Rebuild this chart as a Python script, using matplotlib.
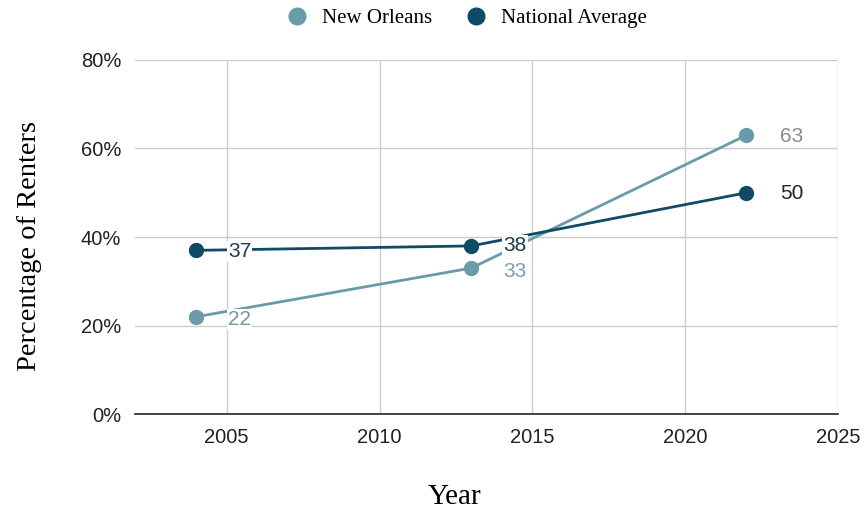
import matplotlib.pyplot as plt
from matplotlib.ticker import FuncFormatter

years = [2004, 2013, 2022]
new_orleans = [22, 33, 63]
national = [37, 38, 50]
series_names = ['New Orleans', 'National Average']

noColor = '#6a9bab'
natColor = '#0f4a66'

fig = plt.figure(figsize=(8.65, 5.12), dpi=100)
ax = fig.add_axes([0.156, 0.191, 0.813, 0.692])

ax.plot(years, new_orleans, color=noColor, lw=2, marker='o', ms=10, label=series_names[0], zorder=3)
ax.plot(years, national, color=natColor, lw=2, marker='o', ms=10, label=series_names[1], zorder=3)

noLabelColors = ['#6f98aa', '#7b9fb0', '#8a8a8a']
natLabelColors = ['#1e3a4a', '#1e3a4a', '#222222']
noOffsets = [(32, -3), (32, -3), (34, -1)]
natOffsets = [(32, -1), (32, 0), (34, -1)]
for x, y, c, off in zip(years, new_orleans, noLabelColors, noOffsets):
    ax.annotate(str(y), (x, y), textcoords='offset pixels', xytext=off, ha='left', va='center',
                fontsize=15, color=c, family='Liberation Sans', zorder=4,
                bbox=dict(boxstyle='square,pad=0.05', fc='white', ec='none'))
for x, y, c, off in zip(years, national, natLabelColors, natOffsets):
    ax.annotate(str(y), (x, y), textcoords='offset pixels', xytext=off, ha='left', va='center',
                fontsize=15, color=c, family='Liberation Sans', zorder=4,
                bbox=dict(boxstyle='square,pad=0.05', fc='white', ec='none'))

ax.set_xlim(2002, 2025)
ax.set_ylim(0, 80)
ax.set_xticks([2005, 2010, 2015, 2020, 2025])
ax.set_yticks([0, 20, 40, 60, 80])
ax.yaxis.set_major_formatter(FuncFormatter(lambda v, p: f'{int(v)}%'))
ax.grid(True, color='#cccccc', lw=1)
ax.set_axisbelow(True)
for s in ['top', 'right', 'left']:
    ax.spines[s].set_visible(False)
ax.spines['bottom'].set_color('#222222')
ax.spines['bottom'].set_linewidth(1.2)
ax.tick_params(length=0, labelsize=14.5, pad=10)
for lab in ax.get_xticklabels() + ax.get_yticklabels():
    lab.set_family('Liberation Sans')
    lab.set_color('#222222')

fig.text(30 / 865, 1 - 246 / 512, 'Percentage of Renters', family='Liberation Serif', fontsize=20.5,
         rotation=90, ha='center', va='center')
fig.text(455 / 865, 1 - 497 / 512, 'Year', family='Liberation Serif', fontsize=21,
         ha='center', va='center')

leg = fig.legend(loc='center', bbox_to_anchor=(467 / 865, 1 - 18 / 512), ncol=2, frameon=False,
                 prop={'family': 'Liberation Serif', 'size': 15}, handlelength=1, handletextpad=0.7,
                 columnspacing=1.6, markerscale=1.2)
for h in leg.legend_handles:
    h.set_linestyle('')

fig.savefig('out.png', dpi=100)
